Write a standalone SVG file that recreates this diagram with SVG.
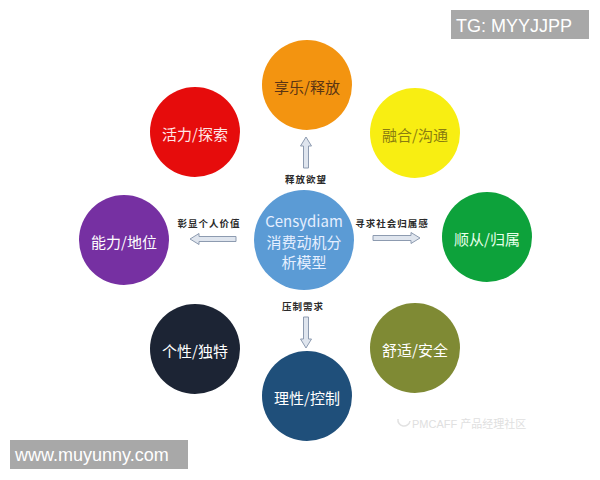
<svg xmlns="http://www.w3.org/2000/svg" width="600" height="480" viewBox="0 0 600 480">
<style>
.node text{font-family:"Noto Sans CJK SC","Noto Sans",sans-serif;font-size:15px;text-anchor:middle;dominant-baseline:central}
.lbl{font-family:"Noto Sans CJK SC",sans-serif;font-size:9.5px;font-weight:bold;fill:#2a2a2a;text-anchor:middle;letter-spacing:1px}
.arr{fill:#dfe5ee;stroke:#8d9bb0;stroke-width:1}
.wm{font-family:"Liberation Sans",Arial,sans-serif;font-size:18px;fill:#ffffff}
</style>
<rect width="600" height="480" fill="#ffffff"/>
<g id="connectors">
  <!-- up arrow -->
  <path class="arr" d="M303.5,168 L303.5,146 L300.5,146 L306,137 L311.5,146 L308.5,146 L308.5,168 Z"/>
  <!-- left arrow -->
  <path class="arr" d="M236,236.5 L199,236.5 L199,233.5 L190,239 L199,244.5 L199,241.5 L236,241.5 Z"/>
  <!-- right arrow -->
  <path class="arr" d="M373,235.5 L411,235.5 L411,232.5 L420,238 L411,243.5 L411,240.5 L373,240.5 Z"/>
  <!-- down arrow -->
  <path class="arr" d="M303.5,317 L303.5,339 L300.5,339 L306,348 L311.5,339 L308.5,339 L308.5,317 Z"/>
  <text class="lbl" x="306" y="183">释放欲望</text>
  <text class="lbl" x="209" y="227">彰显个人价值</text>
  <text class="lbl" x="392" y="227">寻求社会归属感</text>
  <text class="lbl" x="303" y="310">压制需求</text>
</g>
<g id="node-center" class="node">
  <circle cx="304" cy="240" r="50" fill="#5b9bd5"/>
  <text x="304" y="220" fill="#e6efff" font-size="16">Censydiam</text>
  <text x="304" y="241" fill="#e6efff" font-size="16">消费动机分</text>
  <text x="304" y="261" fill="#e6efff" font-size="16">析模型</text>
</g>
<g id="node-enjoy" class="node">
  <circle cx="307" cy="85" r="45" fill="#f39410"/>
  <text x="307" y="86" fill="#5a3414">享乐/释放</text>
</g>
<g id="node-vitality" class="node">
  <circle cx="195" cy="132" r="45" fill="#e60c0c"/>
  <text x="195" y="133" fill="#ffe6e6">活力/探索</text>
</g>
<g id="node-fusion" class="node">
  <circle cx="415" cy="133" r="45" fill="#f8ee12"/>
  <text x="415" y="134" fill="#8a7d10">融合/沟通</text>
</g>
<g id="node-ability" class="node">
  <circle cx="124" cy="240" r="45" fill="#7630a2"/>
  <text x="124" y="241" fill="#ffffff">能力/地位</text>
</g>
<g id="node-belong" class="node">
  <circle cx="487" cy="237" r="45" fill="#0da23b"/>
  <text x="487" y="238" fill="#e6ffe9">顺从/归属</text>
</g>
<g id="node-individual" class="node">
  <circle cx="195" cy="349" r="45" fill="#1c2434"/>
  <text x="195" y="350" fill="#ffffff">个性/独特</text>
</g>
<g id="node-comfort" class="node">
  <circle cx="415" cy="348" r="45" fill="#7f8a34"/>
  <text x="415" y="349" fill="#ffffff">舒适/安全</text>
</g>
<g id="node-rational" class="node">
  <circle cx="307" cy="396" r="45" fill="#1f4f7a"/>
  <text x="307" y="397" fill="#ffffff">理性/控制</text>
</g>
<g id="watermark-pmcaff">
  <path d="M398,419 a6,6 0 1,0 12,2" fill="none" stroke="#e2e2e2" stroke-width="1.5"/>
  <text x="412" y="428" font-family="Liberation Sans,Noto Sans CJK SC,sans-serif" font-size="11" fill="#e0e0e0">PMCAFF 产品经理社区</text>
</g>
<g id="watermark-tg">
  <rect x="451" y="10" width="138" height="29" fill="#a8a8a8"/>
  <text class="wm" x="456" y="32">TG: MYYJJPP</text>
</g>
<g id="watermark-url">
  <rect x="10" y="440" width="178" height="29" fill="#a8a8a8"/>
  <text class="wm" x="15" y="461">www.muyunny.com</text>
</g>
</svg>
